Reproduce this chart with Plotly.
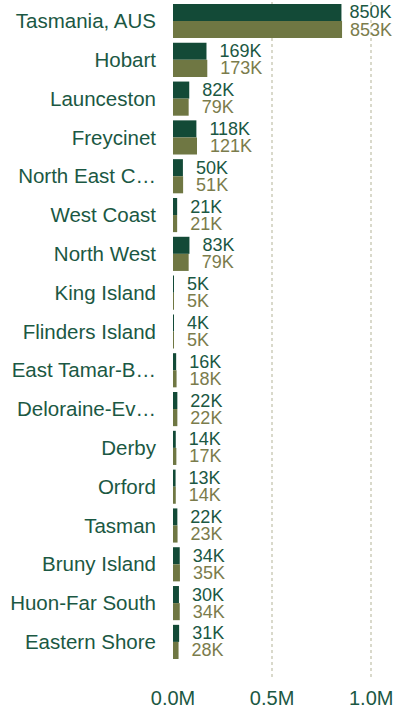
import plotly.graph_objects as go

# Region names as displayed (long names are shortened with an ellipsis)
regions = [
    "Tasmania, AUS", "Hobart", "Launceston", "Freycinet", "North East C…",
    "West Coast", "North West", "King Island", "Flinders Island",
    "East Tamar-B…", "Deloraine-Ev…", "Derby", "Orford", "Tasman",
    "Bruny Island", "Huon-Far South", "Eastern Shore",
]

# Values in thousands for the two series
series_a = [850, 169, 82, 118, 50, 21, 83, 5, 4, 16, 22, 14, 13, 22, 34, 30, 31]
series_b = [853, 173, 79, 121, 51, 21, 79, 5, 5, 18, 22, 17, 14, 23, 35, 34, 28]

tick_vals = [0, 500000, 1000000]
tick_text = ["0.0M", "0.5M", "1.0M"]

dark = "#134a37"
olive = "#6f7743"
label_dark = "#1b5843"
label_olive = "#7b7c4c"
font_family = "Liberation Sans, Arial, sans-serif"

top_val = max(max(series_a), max(series_b))


def labels(values):
    # Gap before each value label; the widest bars get a tighter gap
    out = []
    for v in values:
        pad = "\u00a0" if v > 0.7 * top_val else "\u00a0\u00a0"
        out.append(f"{pad}{v}K")
    return out


fig = go.Figure()
for vals, col, tcol in ((series_a, dark, label_dark), (series_b, olive, label_olive)):
    fig.add_trace(go.Bar(
        y=regions,
        x=[v * 1000 for v in vals],
        orientation="h",
        marker=dict(color=col, line=dict(width=0)),
        text=labels(vals),
        textposition="outside",
        constraintext="none",
        cliponaxis=False,
        textfont=dict(color=tcol, size=18, family=font_family),
        hoverinfo="skip",
    ))

fig.update_layout(
    width=393,
    height=709,
    margin=dict(l=173, r=0, t=2, b=31),
    barmode="group",
    bargap=0.12,
    bargroupgap=0,
    showlegend=False,
    plot_bgcolor="white",
    paper_bgcolor="white",
    font=dict(family=font_family, color=label_dark),
)

fig.update_xaxes(
    range=[0, 1100000],
    tickvals=tick_vals,
    ticktext=tick_text,
    tickfont=dict(size=20, color=label_dark),
    ticklabeloverflow="allow",
    showgrid=True,
    gridcolor="#d9d9cb",
    griddash="dot",
    gridwidth=1.5,
    zeroline=False,
    showline=False,
    ticks="",
    ticklabelstandoff=6,
)

fig.update_yaxes(
    range=[16.93, -0.49],
    tickfont=dict(size=20.5, color=label_dark),
    showgrid=False,
    zeroline=False,
    showline=False,
    ticks="",
    ticklabelstandoff=16,
)

fig.write_html("out.html")
